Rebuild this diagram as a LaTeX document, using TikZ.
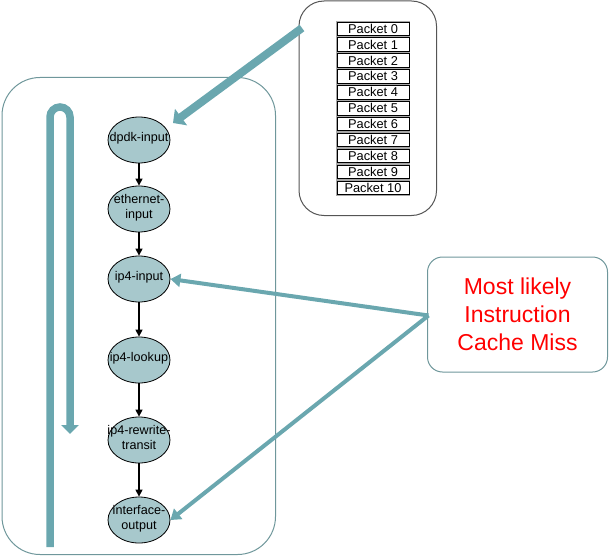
\documentclass[tikz,border=0pt]{standalone}
\usepackage{fontspec}
\setmainfont{Liberation Sans}
\usetikzlibrary{arrows.meta,shapes.geometric}
\definecolor{teal1}{HTML}{6AA7AF}
\definecolor{efill}{HTML}{A7C8CC}
\definecolor{bline}{HTML}{6F979B}
\definecolor{pline}{HTML}{555555}
\newcommand\zbox[1]{\raisebox{-3.3pt}{\smash{\makebox[0pt]{\begin{tabular}{@{}c@{}}#1\end{tabular}}}}}
\tikzset{
  stage/.style={ellipse,draw=black,line width=0.8pt,fill=efill,minimum width=62pt,minimum height=46pt,inner sep=0pt,font=\fontsize{12.6}{15}\selectfont},
  flow/.style={draw=black,line width=1.3pt,-{Triangle[length=7pt,width=7pt]}},
  pkt/.style={draw=black,line width=0.8pt,fill=white,minimum width=72pt,minimum height=13.5pt,inner sep=0pt,font=\fontsize{12.8}{12.8}\selectfont},
  bigarrow/.style={draw=teal1,line width=8pt,-{Triangle[length=10pt,width=20pt]}},
  missarrow/.style={draw=teal1,line width=4pt,-{Triangle[length=10pt,width=13pt]}},
  uline/.style={draw=teal1,line width=7.5pt,-{Triangle[length=9pt,width=17pt]}},
}
\begin{document}
\begin{tikzpicture}[x=1pt,y=-1pt]
\useasboundingbox (0,0) rectangle (609,556);
% containers
\draw[bline,line width=1pt,rounded corners=38pt] (2,77.5) rectangle (275.5,554.5);
\draw[pline,line width=1pt,rounded corners=25pt] (299,1) rectangle (436.5,215.5);
\node[draw=bline,line width=1pt,rounded corners=15pt,minimum width=180pt,minimum height=115pt,inner sep=0pt,align=center,text=red,font=\fontsize{23}{28}\selectfont] (miss) at (517.5,314.5) {Most likely\\Instruction\\Cache Miss};
% packets
\foreach \i in {0,...,10}{
  \draw[gray!70,line width=1pt] (336.2,{21.2+15.9*\i}) rectangle (409.8,{36.1+15.9*\i});
  \node[pkt] (p\i) at (373,{28.7+15.9*\i}) {Packet \i};
}
% stages
\node[stage] (dpdk) at (139,140) {\zbox{dpdk-input}};
\node[stage] (eth) at (139,209) {\zbox{ethernet-\\input}};
\node[stage] (ip4in) at (139,279) {\zbox{ip4-input}};
\node[stage] (lookup) at (139,360) {\zbox{ip4-lookup}};
\node[stage] (rewrite) at (139,440) {\zbox{ip4-rewrite-\\transit}};
\node[stage] (iface) at (139,520) {\zbox{interface-\\output}};
\draw[flow] (dpdk) -- (eth);
\draw[flow] (eth) -- (ip4in);
\draw[flow] (ip4in) -- (lookup);
\draw[flow] (lookup) -- (rewrite);
\draw[flow] (rewrite) -- (iface);
% big arrow from packet vector
\coordinate (src) at (302,28);
\coordinate (dst) at (173,123);
\draw[bigarrow] (src) -- (dst);
% miss arrows
\coordinate (mpt) at (428.5,315.5);
\draw[missarrow] (mpt) -- (ip4in.east);
\draw[missarrow] (mpt) -- (iface.east);
% U loop
\coordinate (ustart) at (50,547);
\coordinate (uend) at (70,434);
\draw[uline] (ustart) -- (50,117) arc[start angle=180,end angle=360,radius=10] -- (uend);
\end{tikzpicture}
\end{document}
